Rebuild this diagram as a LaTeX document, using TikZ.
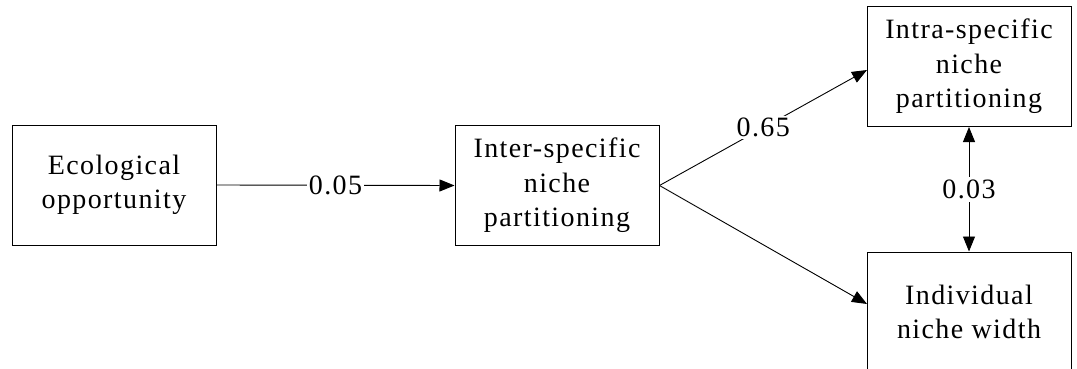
\documentclass[tikz,border=0pt]{standalone}
\usepackage{fontspec}
\setmainfont[LetterSpace=5]{Liberation Serif}
\usetikzlibrary{arrows.meta}
\begin{document}
\begin{tikzpicture}[x=1pt,y=-1pt,
  every node/.style={font=\fontsize{28}{34.5}\selectfont},
  factor/.style={draw, line width=1pt, minimum width=204pt, minimum height=120pt,
    align=center, inner sep=0pt},
  path/.style={line width=0.9pt, -{Triangle[length=15pt,width=12pt]}},
  twoway/.style={line width=0.9pt, {Triangle[length=15pt,width=12pt]}-{Triangle[length=15pt,width=12pt]}},
  coef/.style={fill=white, inner sep=2pt, pos=0.5}]
  \clip (0,0) rectangle (1077,369);
  \useasboundingbox (0,0) rectangle (1077,369);

  \node[factor] (eco)   at (114,185)   {Ecological\\opportunity};
  \node[factor] (inter) at (557,185.5) {Inter-specific\\niche\\partitioning};
  \node[factor] (intra) at (969,66.5)  {Intra-specific\\niche\\partitioning};
  \node[factor] (indiv) at (969,312)   {Individual\\niche width};

  \coordinate (intraIn) at (867,70);
  \coordinate (indivIn) at (867,304);

  \draw[path] (eco.east) -- node[coef] {0.05} (inter.west);
  \draw[path] (inter.east) -- node[coef] {0.65} (intraIn);
  \draw[path] (inter.east) -- (indivIn);
  \draw[twoway] (intra.south) -- node[coef, inner sep=3pt] {0.03} (indiv.north);
\end{tikzpicture}
\end{document}
